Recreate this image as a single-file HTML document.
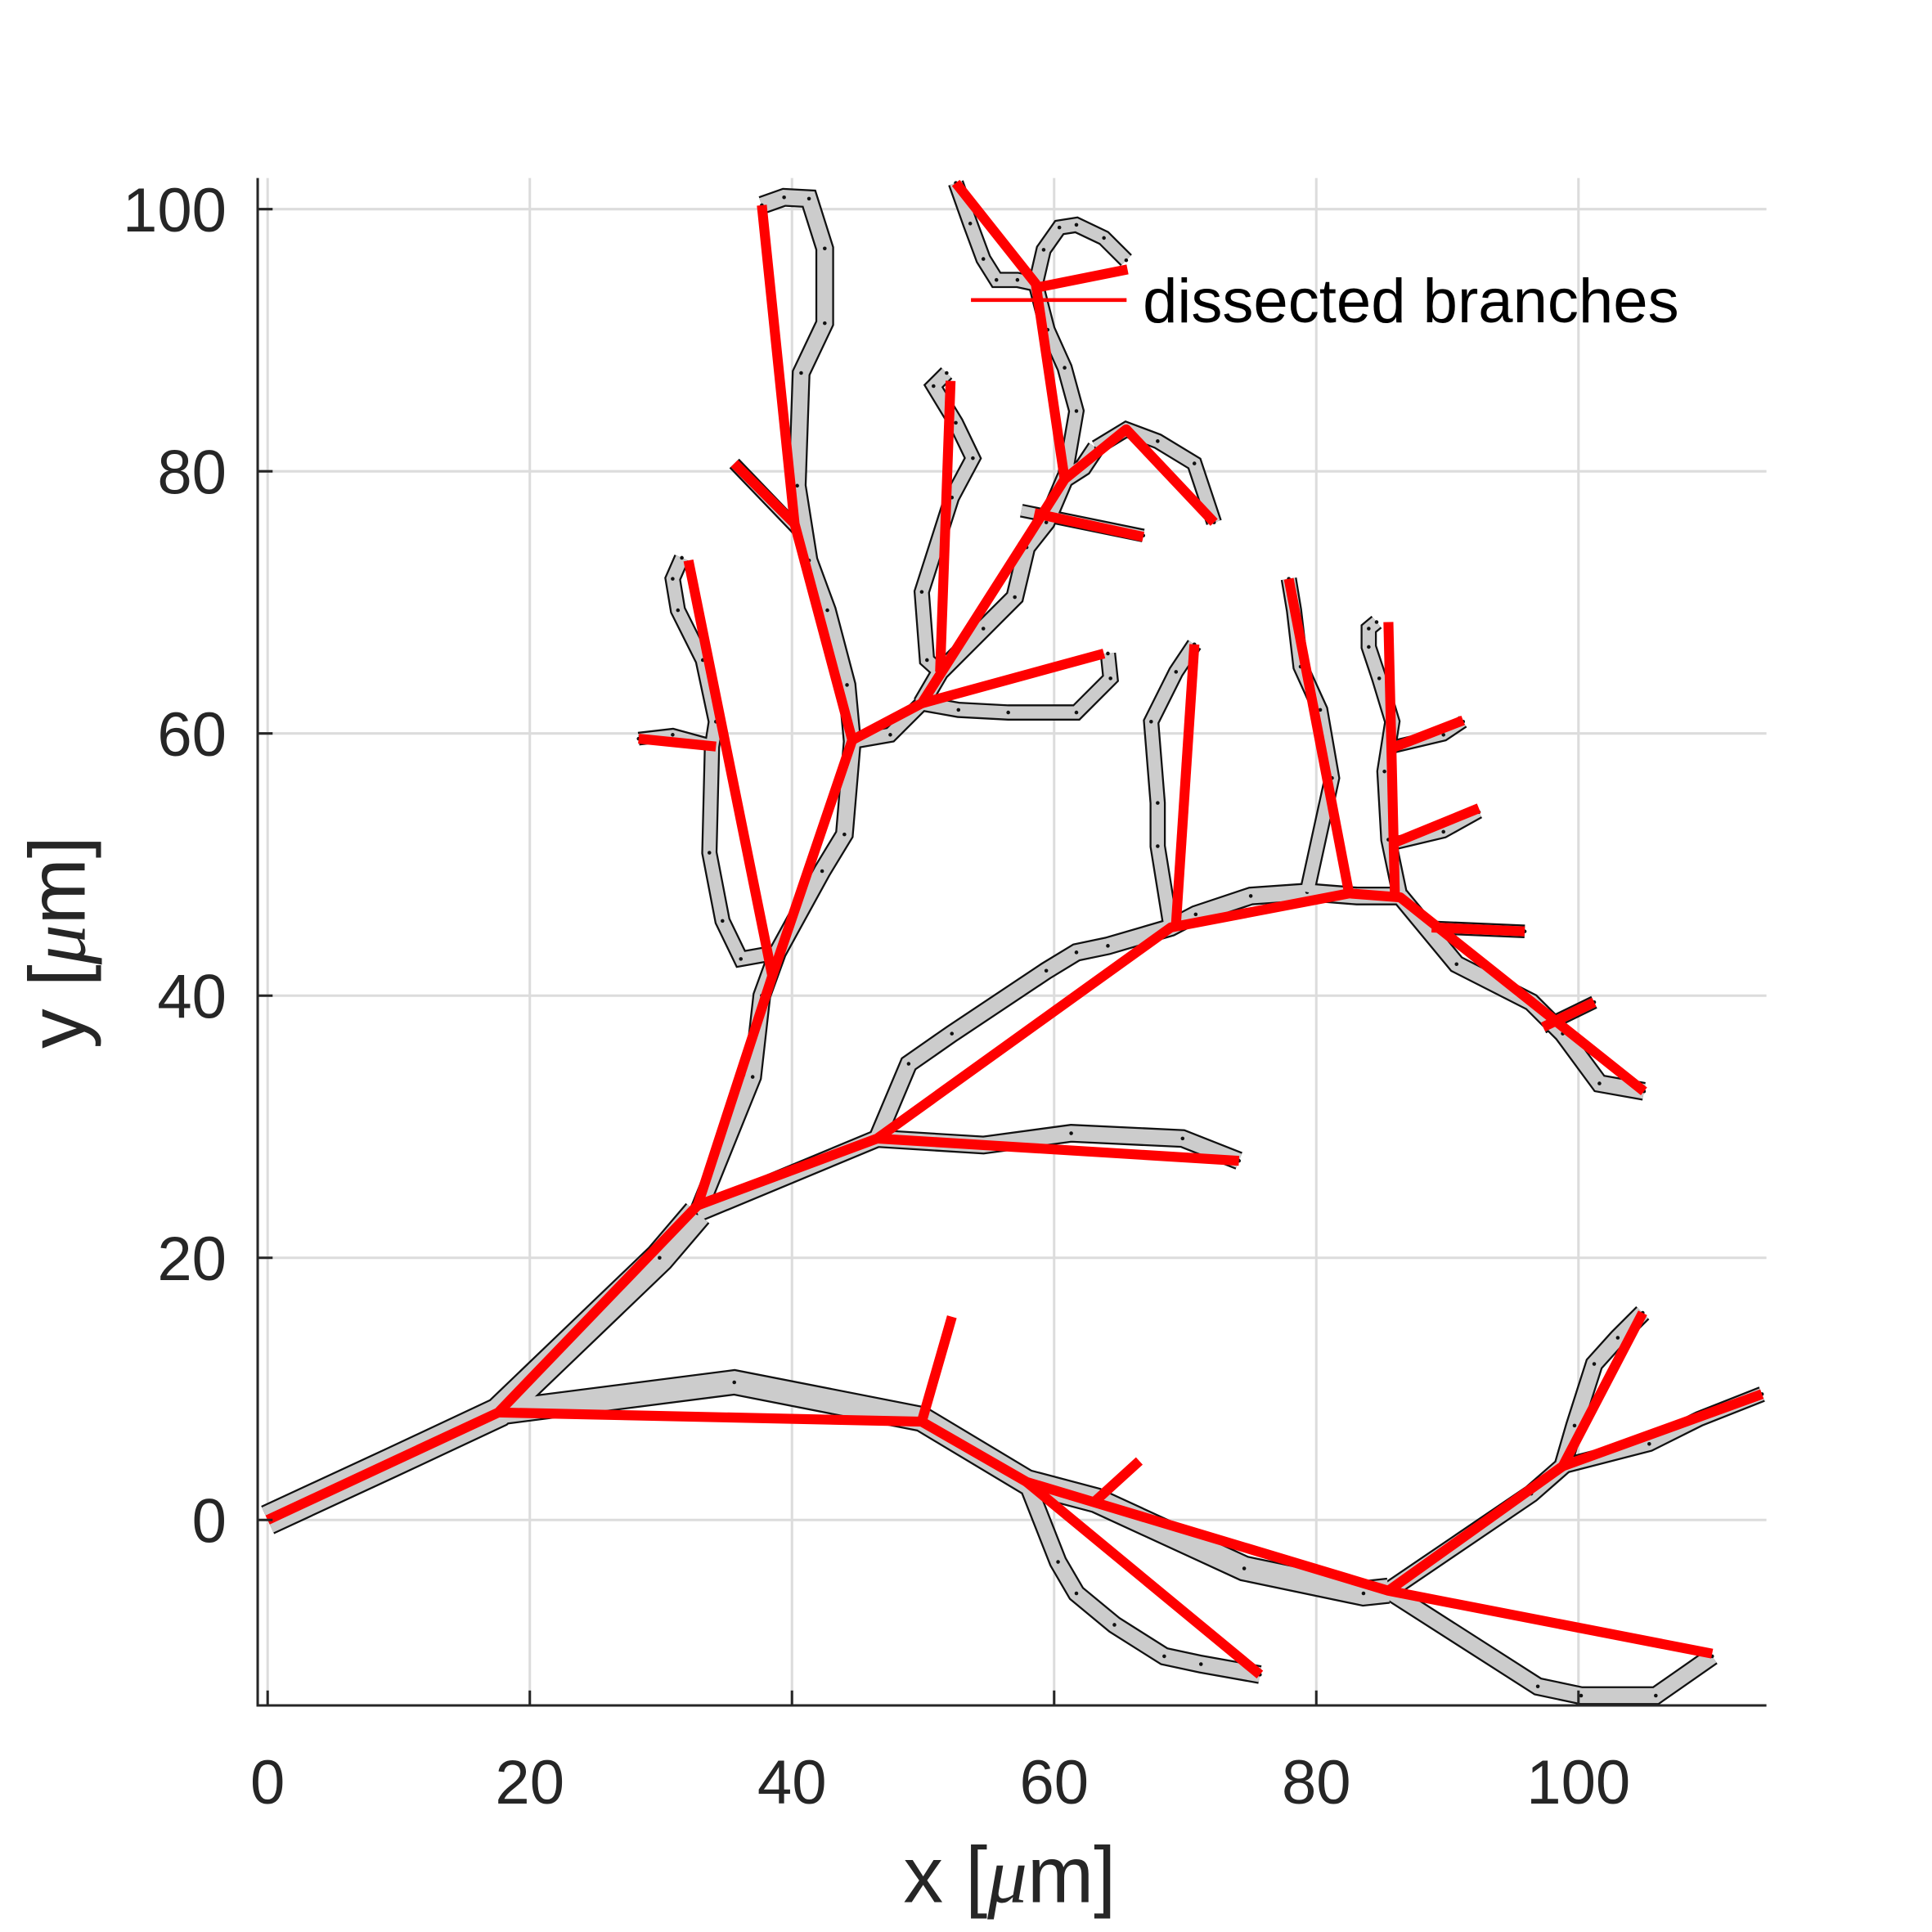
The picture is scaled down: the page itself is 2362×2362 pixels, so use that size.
<!DOCTYPE html>
<html><head><meta charset="utf-8"><style>
html,body{margin:0;padding:0;background:#fff;}
svg{display:block;}
text{font-family:"Liberation Sans",Arial,sans-serif;fill:#262626;}
</style></head><body>
<svg id="chart" width="2362" height="2362" viewBox="0 0 1552 1552" xmlns="http://www.w3.org/2000/svg">
<g id="grid"></g>
<g id="gray"></g>
<g id="red"></g>
<g id="axes"></g>
<g>
<line x1="780" y1="241" x2="905" y2="241" stroke="#ff0000" stroke-width="3"/>
<text x="918" y="259" font-size="50" style="fill:#000">dissected branches</text>
</g>
<text x="811" y="1528" font-size="64" text-anchor="middle">x [<tspan font-family="Liberation Serif" font-style="italic">μ</tspan>m]</text>
<text transform="translate(68,757) rotate(-90)" font-size="64" text-anchor="middle">y [<tspan font-family="Liberation Serif" font-style="italic">μ</tspan>m]</text>
</svg>
<script>
const xTicks=[0,20,40,60,80,100];
const yTicks=[0,20,40,60,80,100];
const grayBranches=[
[[0,0],[9.5,4.4],[17.6,8.2],[29.9,20],[32.8,23.4]],
[[17.6,8.2],[35.6,10.5],[49.9,7.7],[57.9,2.9],[63.2,1.5],[74.5,-3.7],[83.6,-5.6],[85.5,-5.4]],
[[85.5,-5.4],[96.9,-12.7],[100.2,-13.4],[105.9,-13.4],[110.2,-10.4]],
[[85.5,-5.4],[96.4,2],[98.8,4.1],[99.7,7.2],[101.2,11.9],[103,13.9],[104.9,15.8]],
[[98.8,4.1],[105.4,5.8],[109.2,7.7],[114,9.6]],
[[57.9,2.9],[60.3,-3.2],[61.7,-5.6],[64.6,-8],[68.4,-10.4],[71.2,-11],[75.7,-11.8]],
[[32.8,23.4],[46.5,29.1],[54.6,28.6],[61.3,29.5],[69.8,29.1],[74.1,27.4]],
[[46.5,29.1],[48.9,34.8],[52.2,37.1],[59.4,41.9],[61.7,43.3],[64.1,43.8],[68.9,45.2],[70.8,46.2],[75,47.6],[79.3,47.9],[83.1,47.6],[86.4,47.6]],
[[86.4,47.6],[90.7,42.4],[96.4,39.5],[98.8,37.1],[101.6,33.3],[105,32.7]],
[[86.4,47.6],[85.5,51.9],[85.2,57.1],[85.8,60.9],[84.8,64.2],[84,66.6],[84,68],[84.6,68.5]],
[[85.9,59],[89.7,59.9],[91.2,60.9]],
[[85.9,51.6],[89.7,52.5],[92.4,54]],
[[88.8,45.2],[95.9,44.9]],
[[97.3,37.6],[101.2,39.5]],
[[79.3,47.9],[81.2,56.6],[80.3,61.8],[78.8,65.1],[78.3,69.4],[77.9,71.8]],
[[68.9,45.2],[67.9,51.4],[67.9,54.7],[67.4,60.9],[69.3,64.7],[70.7,66.8]],
[[32.8,23.4],[37,33.8],[37.7,40],[38.9,43.3],[42.3,49.5],[44,52.3],[44.6,59.4],[44.2,63.7],[42.7,69.4],[41.3,73.2],[40.4,78.9],[40.7,87.5],[42.5,91.3],[42.5,97],[41.3,100.8],[39.4,100.9],[37.7,100.3]],
[[38.9,43.3],[36.1,42.8],[34.7,45.7],[33.7,50.9],[33.9,59],[34.2,60.9],[33.2,65.6],[31.3,69.4],[30.9,71.8],[31.6,73.4]],
[[34.2,59],[30.9,59.9],[28.3,59.6]],
[[44.6,59.4],[47.5,59.9],[49.9,62.3],[52.7,61.8],[56.5,61.6],[61.7,61.6],[64.3,64.2],[64.1,66.1]],
[[49.9,62.3],[51.3,64.7],[54.6,68],[57,70.4],[57.9,74.2],[59.4,76.1],[60.8,79.4],[62.2,80.3],[63.2,81.8]],
[[51.3,64.7],[50.3,65.6],[49.9,70.8],[52.2,78],[53.8,81],[52.5,83.7],[50.8,86.5],[51.8,87.5]],
[[60.8,79.4],[61.7,84.6],[60.8,87.9],[59.5,90.8],[58.6,94.3],[57.2,94.6],[55.6,94.6],[54.6,96.2],[53.6,98.9],[52.5,102]],
[[58.6,94.3],[59.2,96.9],[60.4,98.6],[61.7,98.8],[63.8,97.8],[65.5,96.1]],
[[63.2,81.8],[65.5,83.2],[67.9,82.3],[70.7,80.6],[72.2,76.1]],
[[57.5,77],[66.8,75.1]],
[[35.6,80.6],[40.4,75.6]]
];
const grayWidths=[22,18,12,12,10,12,12,12,12,10,8,8,8,8,10,10,12,10,8,10,12,10,10,10,10,8,8];
const redBranches=[
[[0,0],[17.6,8.2],[32.8,24],[38.5,41.5],[44.6,59.5],[40.2,76],[37.7,100.3]],
[[35.6,80.6],[40.2,76]],
[[32.8,24],[46.5,29.1],[68.9,45.2],[82.5,47.8],[86.4,47.5],[105,32.7]],
[[46.5,29.1],[74.1,27.4]],
[[17.6,8.2],[49.9,7.5],[57.9,2.9],[85.5,-5.4],[110.2,-10.2]],
[[49.9,7.5],[52.2,15.5]],
[[57.9,2.9],[75.7,-11.8]],
[[85.5,-5.4],[98.8,4.1],[104.9,15.8]],
[[98.8,4.1],[114,9.6]],
[[63.2,1.5],[66.5,4.5]],
[[38.5,41.5],[32.1,73.2]],
[[28.3,59.6],[34.2,59]],
[[44.6,59.5],[49.9,62.3],[60.8,79.4],[65.5,83.2],[72.2,76.1]],
[[49.9,62.3],[63.8,66.1]],
[[51.3,64.7],[52.1,86.9]],
[[60.8,79.4],[58.6,94.3],[52.5,102]],
[[58.6,94],[65.6,95.4]],
[[58.5,76.8],[66.8,75]],
[[69.3,45.5],[70.7,66.8]],
[[82.5,47.8],[77.9,71.8]],
[[86,47.5],[85.5,68.5]],
[[85.8,58.9],[91.2,61]],
[[85.8,51.6],[92.4,54.3]],
[[88.8,45.2],[95.9,44.9]],
[[97.3,37.6],[101.2,39.5]]
];
const X0=207,X1=1419,Y0=143,Y1=1370;
function sx(v){return 215+v*10.53;}
function sy(v){return 1221-v*10.53;}
const NS="http://www.w3.org/2000/svg";
function mk(tag,attrs,parent){const e=document.createElementNS(NS,tag);for(const k in attrs)e.setAttribute(k,attrs[k]);parent.appendChild(e);return e;}
const grid=document.getElementById('grid'),axes=document.getElementById('axes'),gray=document.getElementById('gray'),red=document.getElementById('red');
xTicks.forEach(t=>{
 const l=mk('line',{x1:sx(t),x2:sx(t),y1:Y0,y2:Y1,stroke:'#dcdcdc','stroke-width':2},grid);
 
 
 const tk=mk('line',{x1:sx(t),x2:sx(t),y1:Y1,y2:Y1-12,stroke:'#262626','stroke-width':2},axes);
 
 
 const tx=mk('text',{x:sx(t),y:1449,'font-size':50,'text-anchor':'middle'},axes);
 tx.textContent=t;
 
 
});
yTicks.forEach(t=>{
 const l=mk('line',{x1:X0,x2:X1,y1:sy(t),y2:sy(t),stroke:'#dcdcdc','stroke-width':2},grid);
 
 
 const tk=mk('line',{x1:X0,x2:X0+12,y1:sy(t),y2:sy(t),stroke:'#262626','stroke-width':2},axes);
 
 
 const tx=mk('text',{x:182,y:sy(t)+18,'font-size':50,'text-anchor':'end'},axes);
 tx.textContent=t;
 
 
});
const ax=mk('path',{d:`M${X0},${Y0}V${Y1}H${X1}`,fill:'none',stroke:'#262626','stroke-width':2},axes);


function pts(b){return b.map(p=>sx(p[0])+','+sy(p[1])).join(' ');}
grayBranches.forEach((b,i)=>{
 const w=grayWidths[i]||10;
 const o=mk('polyline',{points:pts(b),fill:'none',stroke:'#111','stroke-width':w+3,'stroke-linejoin':'miter','stroke-linecap':'butt'},gray);
 
 
});
grayBranches.forEach((b,i)=>{
 const w=grayWidths[i]||10;
 const f=mk('polyline',{points:pts(b),fill:'none',stroke:'#cccccc','stroke-width':w,'stroke-linejoin':'miter','stroke-linecap':'butt'},gray);
 
 
 b.forEach((p,j)=>{ if(j===0)return;
  const c=mk('circle',{cx:sx(p[0]),cy:sy(p[1]),r:1.5,fill:'#111'},gray);
  
  
 });
});
redBranches.forEach(b=>{
 const r=mk('polyline',{points:pts(b),fill:'none',stroke:'#ff0000','stroke-width':8,'stroke-linejoin':'round'},red);
 
 
});
</script>
</body></html>
